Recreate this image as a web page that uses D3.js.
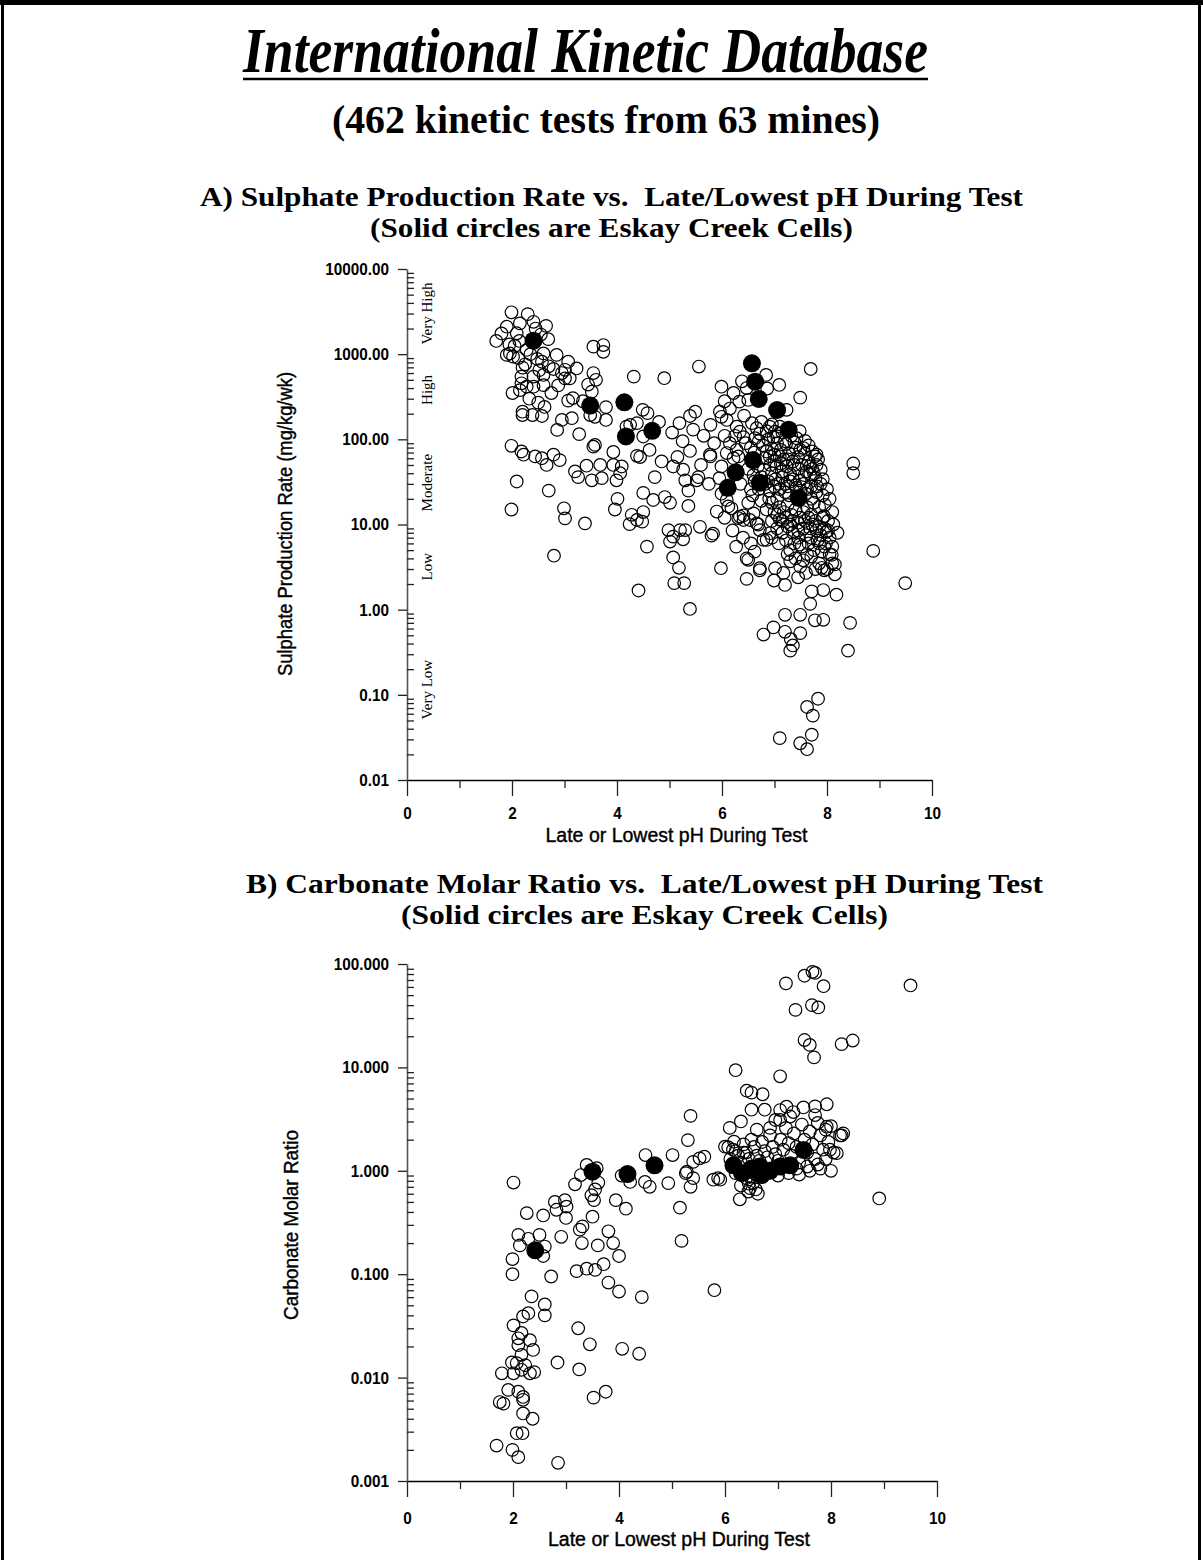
<!DOCTYPE html>
<html>
<head>
<meta charset="utf-8">
<script src="https://cdn.jsdelivr.net/npm/d3@7"></script>
<style>
  body { margin: 0; background: #fff; }
  svg { display: block; }
</style>
</head>
<body>
<svg id="chart" width="1203" height="1560"></svg>
<script>
// ---------------- data ----------------
// Panel A: [late/lowest pH, sulphate production rate (mg/kg/wk)]
const sulphateOpen = [
  [1.99,3100],[2.30,2950],[2.41,2400],[2.65,2150],[1.90,2100],[1.80,1750],[1.70,1430],[2.09,1760],[2.14,1430],[2.69,1500],
  [1.96,1020],[2.02,935],[1.90,980],[2.28,1120],[2.60,1020],[2.85,980],[2.57,815],[3.07,815],[2.20,695],[2.79,670],
  [3.01,655],[3.23,680],[2.18,545],[2.41,545],[2.60,570],[3.01,520],[2.18,455],[2.28,415],[2.01,350],[2.15,378],
  [2.41,415],[2.60,433],[3.55,1225],[3.74,1280],[3.74,1065],[3.55,600],[3.60,500],[4.32,545],[4.90,522],[5.56,715],
  [3.52,363],[3.16,305],[3.07,285],[3.79,239],[3.79,169],[3.49,193],[3.58,184],[2.95,169],[3.14,177],[2.86,129],
  [3.28,115],[2.20,211],[2.20,193],[2.39,193],[2.57,188],[4.25,148],[4.38,155],[4.49,222],[4.58,203],[4.18,141],
  [4.50,108],[5.19,155],[5.39,188],[5.49,211],[5.78,148],[5.99,415],[6.22,350],[5.99,184],[6.09,169],[5.96,211],
  [1.99,84],[2.18,72],[2.22,66],[2.44,63],[2.66,50],[2.57,60],[2.91,57],[2.79,66],[3.58,86],[3.55,82],
  [3.93,71],[4.38,64],[4.44,62],[5.39,73],[5.77,66],[6.09,69],[3.20,42],[3.26,36],[3.42,49],[3.68,50],
  [3.93,50],[4.09,48],[3.52,33],[3.71,35],[3.99,33],[4.06,40],[4.72,36],[5.07,48],[5.26,44],[5.30,33],
  [5.55,36],[5.52,33],[2.09,32],[2.70,25],[1.99,15],[2.99,15.5],[3.01,11.8],[3.39,10.3],[4.01,20],[3.96,15],
  [4.50,23.5],[4.38,11.3],[4.28,13],[4.50,14],[4.69,19.4],[4.91,21],[5.01,18],[5.36,25],[5.36,16.5],[5.07,7.2],
  [5.20,8.6],[4.98,8.6],[5.26,6.7],[5.58,9.4],[5.80,7.4],[5.90,14.2],[6.12,16.3],[4.57,5.5],
  [4.24,10.1],[4.48,10.8],[2.80,4.3],[4.41,1.68],[5.30,8.6],[5.01,6.3],[5.83,7.8],[6.18,15.5],[5.07,4.1],[5.18,3.1],
  [5.09,2.05],[5.28,2.05],[5.39,1.02],[5.98,3.07],[6.27,5.5],[6.41,11.3],[6.47,4.0],[6.50,3.85],[6.47,2.3],[6.72,3.07],
  [6.72,2.9],[6.99,2.2],[6.79,0.51],[6.98,0.62],[7.10,0.031],[6.60,13.5],[6.69,10],[6.79,6.6],[6.91,7.9],[6.31,11.9],[6.41,12.8],
  [7.69,670],[6.84,570],[7.09,435],[6.47,400],[6.86,395],[6.33,277],[6.50,290],[7.49,309],[7.23,222],
  [6.28,141],[6.34,123],[6.25,110],[6.41,106],[6.57,155],[6.66,135],[6.72,117],[6.63,103],[6.91,141],[7.01,123],
  [6.98,106],[7.10,141],[7.42,103],[7.55,79],[7.49,75],
  [5.78,63],[5.99,48],[6.28,75],[6.31,63],[6.85,72],[6.91,63],[7.10,63],[7.04,48],[7.14,42],[7.23,48],
  [7.30,39],[7.77,63],[7.80,50],[7.68,39],[7.61,42],[8.50,52],[8.50,40],[5.99,23],[6.09,19.4],
  [6.55,26],[6.91,25],[7.00,28],[7.10,26],[7.20,30],[7.25,28],[7.30,32],[7.40,29],[7.50,25],[7.60,23],[7.70,20],[7.75,18],
  [6.34,12.4],[6.53,11.3],[6.66,10.3],[6.72,8.6],[6.85,6.6],
  [7.05,13],[7.15,11],[7.25,9.5],[7.35,8],[7.45,7],[7.55,9],[7.65,12],[7.70,7],[7.85,6],[7.95,5.5],
  [8.05,4.5],[8.10,3.5],[8.00,3.0],[7.90,3.1],
  [8.88,4.9],[9.49,2.05],[7.01,3.07],[7.17,2.7],[7.30,3.7],[7.20,1.95],[7.49,3.2],[7.71,1.64],[7.93,1.7],[8.18,1.5],
  [7.68,1.17],[7.20,0.87],[7.49,0.87],[7.93,0.76],[7.99,8.2],[8.09,4.4],[8.15,3.4],
  [7.20,0.55],[7.31,0.45],[7.35,0.38],[7.30,0.33],[7.49,0.53],[7.77,0.75],[8.44,0.70],[8.40,0.33],
  [7.62,0.072],[7.83,0.09],[7.73,0.057],[7.71,0.034],[7.49,0.027],[7.62,0.023],
  [6.45,90],[6.55,80],[6.62,70],[6.70,95],[6.78,85],[6.82,60],[6.88,100],[6.95,78],[7.00,66],[7.05,90],
  [7.12,75],[7.18,58],[7.22,88],[7.28,68],[7.35,55],[7.40,80],[7.45,62],[7.52,50],[7.58,68],[7.65,55],
  [7.72,45],[7.78,35],[6.50,45],[6.60,38],[6.68,48],[6.75,36],[6.80,44],[6.88,32],[6.95,40],[7.02,34],
  [7.08,30],[7.15,36],[7.20,24],[7.28,22],[7.35,34],[7.42,27],[7.48,33],[7.55,30],[7.62,26],[7.70,28],
  [7.80,24],[7.85,16],[6.50,18],[6.58,22],[6.75,19],[6.85,15],[6.95,18],[7.05,20],[7.10,16],[7.18,14],
  [7.25,17],[7.32,13],[7.40,15],[7.48,12],[7.55,14],[7.62,16],[7.70,13],[7.78,11],[7.85,9.5],[7.92,12],
  [6.95,11],[7.05,9],[7.15,8],[7.22,6.5],[7.30,10],[7.38,6],[7.45,8.5],[7.52,5.5],[7.60,7.5],[7.68,9],
  [7.75,5],[7.82,6.5],[7.90,4.8],[7.98,6],[8.05,7],[8.10,5.5],[7.25,4.5],[7.40,4],[7.55,3.8],[7.70,4.2],
  [7.85,3.5],[7.95,2.9],[8.15,2.6],[7.60,2.7],[7.45,2.4],[7.78,3.0],[7.83,58],[7.81,28],[7.96,17],[7.94,12.5],
  [2.05,1250],[2.12,900],[2.25,760],[2.35,1000],[2.48,880],[2.52,650],[2.70,720],[2.95,600],[3.10,520],[2.33,300],
  [2.50,270],[2.75,350],[2.88,430],[3.35,280],[3.45,440],[2.62,240],[1.95,1300],[2.45,2000],[2.55,1700],[2.15,2300],
  [4.80,160],[5.05,120],[5.25,95],[5.45,130],[5.65,110],[5.85,90],[4.62,75],[4.85,55],[5.15,62],[5.60,50],
  [5.75,30],[5.95,35],[6.05,110],[6.15,90],[6.05,280],[6.15,230],[6.38,480],[6.42,190],[6.22,60],[6.35,30],
  [6.05,12],[6.20,8.5],[6.40,7],[6.55,6],[6.62,4.8],
  [6.75,160],[6.85,125],[6.95,150],[7.05,108],[7.15,120],[7.20,95],[7.32,110],[7.38,92],[7.48,125],[7.58,96],
  [7.65,85],[7.72,72],[7.80,66],[7.88,44],[7.92,34],[8.00,26],[8.05,20],[8.10,14],[8.12,10],[8.20,8],
  [8.02,11],[7.92,22],[7.88,30],[7.75,40],[7.68,48],[7.57,38],[7.45,45],[7.38,50],[7.26,58],[7.12,52],
  [7.00,55],[6.92,50],[6.82,30],[6.70,26],[6.62,32],[6.90,20],[7.00,14],[7.10,11.5],[7.22,12],[7.35,11],
  [7.45,10.5],[7.58,11],[7.65,6],[7.72,10],[7.80,8.5],[7.88,7.5],[7.95,9],[8.02,8.5],[6.95,7],[7.08,6],
  [7.30,5],[7.48,5.8],[7.62,4.5]
];
// Eskay Creek cells, panel A
const sulphateEskay = [
  [2.41,1440],[3.49,249],[4.14,272],[4.17,108],[4.67,126],[6.57,782],[6.63,475],[6.70,298],
  [7.05,221],[7.27,130],[6.59,57],[6.26,41],[6.11,27],[6.72,31],[7.46,20.5]
];

// Panel B: [late/lowest pH, carbonate molar ratio]
const ratioOpen = [
  [6.20,9.4],[6.41,5.95],[6.50,5.7],[6.71,5.5],[6.50,3.9],[6.75,3.9],[5.35,3.4],[6.30,3.0],[6.09,2.6],[6.60,2.5],
  [5.30,1.98],[6.00,1.71],[6.06,1.69],[6.17,1.91],[4.50,1.42],[5.01,1.42],[5.40,1.22],[5.52,1.32],[5.61,1.37],
  [3.39,1.14],[3.58,1.06],[3.28,0.91],[3.17,0.74],[3.61,0.77],[3.55,0.66],[3.48,0.58],[3.53,0.52],[4.05,0.9],[4.21,0.78],
  [4.49,0.78],[4.58,0.7],[4.93,0.76],[5.26,0.95],[5.40,0.85],[5.35,0.70],[5.15,0.44],[5.18,0.21],[5.80,0.070],
  [5.87,0.85],[5.91,0.82],[6.28,0.53],[6.47,0.68],[6.53,0.76],
  [2.01,0.77],[2.26,0.39],[2.57,0.37],[2.79,0.50],[2.98,0.52],[2.82,0.42],[3.01,0.45],[3.00,0.35],[2.91,0.23],
  [3.31,0.29],[3.26,0.27],[3.30,0.20],[3.50,0.36],[3.80,0.26],[3.89,0.20],[3.60,0.19],[4.00,0.15],
  [2.10,0.24],[2.29,0.22],[2.50,0.24],[2.13,0.19],[2.60,0.185],[2.57,0.15],[1.99,0.14],[1.99,0.10],[2.72,0.095],
  [3.20,0.107],[3.39,0.113],[3.55,0.11],[3.71,0.125],[3.80,0.083],[4.00,0.068],[4.43,0.060],[2.35,0.061],
  [2.60,0.051],[2.60,0.040],[2.29,0.042],[2.19,0.039],[2.01,0.032],[2.16,0.027],[2.10,0.024],
  [2.32,0.023],[2.38,0.0185],[2.10,0.0206],[2.16,0.0166],[2.07,0.0138],[1.98,0.014],[2.23,0.0132],[2.16,0.0119],
  [1.79,0.011],[2.01,0.011],[2.40,0.0113],[2.32,0.011],[2.84,0.014],[3.23,0.030],[3.45,0.021],[3.25,0.012],
  [4.06,0.019],[4.38,0.017],
  [3.52,0.0064],[3.75,0.0073],[1.91,0.0076],[2.10,0.0073],[2.19,0.0065],[1.82,0.0056],[1.75,0.0058],[2.19,0.0061],
  [2.19,0.0045],[2.37,0.0040],[2.07,0.0029],[2.18,0.0029],[1.69,0.0022],[1.99,0.0020],[2.10,0.0017],[2.85,0.0015],
  [3.94,0.52],[4.13,0.43],
  [9.50,62],[7.65,84],[7.70,82],[7.50,77],[7.15,65],[7.86,61],[7.33,36],[7.64,40],[7.76,38],[7.50,18.4],
  [7.60,16.5],[7.68,12.5],[8.20,16.8],[8.41,18.2],[7.04,8.2],
  [7.04,3.87],[7.16,4.17],[7.29,3.7],[7.48,4.1],[7.70,4.2],[7.92,4.4],[7.70,3.46],[7.04,3.1],[7.23,3.35],
  [7.92,2.67],[8.17,2.2],[8.23,2.3],[8.11,1.48],[7.98,1.6],[5.28,0.98],[8.91,0.54],
  [6.10,1.3],[6.15,1.6],[6.25,1.4],[6.30,1.2],[6.35,1.8],[6.40,1.5],[6.45,1.3],[6.50,2.0],[6.55,1.7],[6.60,1.4],
  [6.65,1.25],[6.70,1.9],[6.75,1.55],[6.80,1.35],[6.85,2.2],[6.90,1.7],[6.95,1.45],[7.00,1.25],[7.05,2.0],[7.10,1.6],
  [7.15,2.6],[7.20,1.85],[7.25,1.4],[7.30,2.3],[7.35,1.7],[7.40,1.2],[7.45,2.8],[7.50,2.0],[7.55,1.5],[7.60,2.4],
  [7.65,1.8],[7.70,1.3],[7.75,2.9],[7.80,2.2],[7.85,1.6],[7.90,2.5],[7.95,1.9],[8.00,2.7],[8.05,1.5],[8.20,2.2],
  [6.20,0.95],[6.40,0.85],[6.60,0.9],[6.80,0.95],[7.00,0.9],[7.20,0.95],[7.40,0.92],[7.60,1.0],[7.80,1.05],[8.00,1.0],
  [6.45,0.75],[6.55,0.95],[6.85,1.05],[7.05,1.1],[7.35,1.05],[7.55,1.1],[7.75,1.15],[7.90,1.3],[6.20,1.1],[6.30,0.72],
  [6.58,0.66],[6.62,0.6],[6.50,0.88],[6.85,2.6],[6.95,3.1],[6.20,1.55],[6.35,1.5],[5.78,0.82],[6.44,0.63]
];
// Eskay Creek cells, panel B
const ratioEskay = [
  [3.50,0.98],[4.16,0.93],[4.67,1.13],[2.42,0.17],[6.16,1.13],[6.32,0.95],[6.50,1.05],
  [6.66,1.10],[6.69,0.91],[6.85,1.00],[7.04,1.10],[7.23,1.13],[7.48,1.59]
];

// axis ticks and labels
const phMajorTicks = [0, 2, 4, 6, 8, 10];
const phMinorTicks = [1, 3, 5, 7, 9];
const rateTicks = [0.01, 0.1, 1, 10, 100, 1000, 10000];
const rateTickLabels = ["0.01", "0.10", "1.00", "10.00", "100.00", "1000.00", "10000.00"];
const ratioTicks = [0.001, 0.01, 0.1, 1, 10, 100];
const ratioTickLabels = ["0.001", "0.010", "0.100", "1.000", "10.000", "100.000"];

// sulphate production rate classes, written along the rate axis
const rateClasses = ["Very High", "High", "Moderate", "Low", "Very Low"];
const rateClassCentres = [3000, 380, 31, 3.2, 0.115];

// ---------------- drawing ----------------
const svg = d3.select("#chart");
svg.append("rect").attr("width", 1203).attr("height", 1560).attr("fill", "#fff");

// page frame
svg.append("rect").attr("x", 0).attr("y", 0).attr("width", 1203).attr("height", 5).attr("fill", "#000");
svg.append("rect").attr("x", 1).attr("y", 0).attr("width", 3).attr("height", 1560).attr("fill", "#000");
svg.append("rect").attr("x", 1198).attr("y", 0).attr("width", 3).attr("height", 1560).attr("fill", "#000");

const SERIF = "'Liberation Serif', 'Times New Roman', serif";
const SANS = "'Liberation Sans', Arial, sans-serif";

function fitted(text, width) {
  const natural = text.node().getComputedTextLength();
  text.attr("textLength", width).attr("lengthAdjust", "spacingAndGlyphs");
  return width / natural;
}
function scaledLike(text, ratio) {
  const natural = text.node().getComputedTextLength();
  text.attr("textLength", natural * ratio).attr("lengthAdjust", "spacingAndGlyphs");
}

// headings
const title = svg.append("text")
  .attr("x", 585.5).attr("y", 72).attr("text-anchor", "middle")
  .style("font-family", SERIF).style("font-weight", "bold").style("font-style", "italic")
  .style("font-size", "64px").text("International Kinetic Database");
fitted(title, 685);
svg.append("line").attr("x1", 243).attr("x2", 928).attr("y1", 79).attr("y2", 79)
  .attr("stroke", "#000").attr("stroke-width", 2.5);

const subtitle = svg.append("text")
  .attr("x", 606).attr("y", 133).attr("text-anchor", "middle")
  .style("font-family", SERIF).style("font-weight", "bold")
  .style("font-size", "40px").text("(462 kinetic tests from 63 mines)");
fitted(subtitle, 548);

// two-line panel heading
function panelHeading(cx, y, line1, width1, line2) {
  const t1 = svg.append("text").attr("x", cx).attr("y", y).attr("text-anchor", "middle")
    .style("white-space", "pre")
    .style("font-family", SERIF).style("font-weight", "bold").style("font-size", "27px").text(line1);
  const r = fitted(t1, width1);
  const t2 = svg.append("text").attr("x", cx).attr("y", y + 31).attr("text-anchor", "middle")
    .style("font-family", SERIF).style("font-weight", "bold").style("font-size", "27px").text(line2);
  scaledLike(t2, r);
}
panelHeading(611.5, 206, "A) Sulphate Production Rate vs.  Late/Lowest pH During Test", 823,
  "(Solid circles are Eskay Creek Cells)");
panelHeading(644.5, 893, "B) Carbonate Molar Ratio vs.  Late/Lowest pH During Test", 797,
  "(Solid circles are Eskay Creek Cells)");

function minorLogTicks(decades) {
  const out = [];
  decades.slice(0, -1).forEach(d => { for (let k = 2; k <= 9; k++) out.push(d * k); });
  return out;
}

function styleAxis(g) {
  g.attr("font-size", null).attr("font-family", null);
  g.selectAll(".tick line").attr("stroke", "#222").attr("stroke-width", 1.3);
  g.selectAll("text")
    .style("font-family", SANS).style("font-weight", "bold")
    .style("font-size", "17px").attr("fill", "#000")
    .each(function () {
      const t = d3.select(this);
      if (t.text()) scaledLike(t, 0.9);
    });
}

function drawPanel(p) {
  const x = d3.scaleLinear().domain([0, 10]).range([p.left, p.right]);
  const y = d3.scaleLog().domain([p.yTicks[0], p.yTicks[p.yTicks.length - 1]]).range([p.bottom, p.top]);
  const g = svg.append("g");

  // x axis: labelled even pH ticks, short odd ticks
  const xMajor = g.append("g").attr("transform", `translate(0,${p.bottom})`)
    .call(d3.axisBottom(x).tickValues(phMajorTicks).tickFormat(d3.format("d"))
      .tickSize(16).tickPadding(p.xPad).tickSizeOuter(0));
  xMajor.select(".domain").attr("stroke", "#000").attr("stroke-width", 1.4);
  styleAxis(xMajor);
  const xMinor = g.append("g").attr("transform", `translate(0,${p.bottom})`)
    .call(d3.axisBottom(x).tickValues(phMinorTicks).tickFormat("").tickSize(8));
  xMinor.select(".domain").remove();
  styleAxis(xMinor);

  // y axis: decades on the outside, intermediate ticks on the inside
  const yMajor = g.append("g").attr("transform", `translate(${p.left},0)`)
    .call(d3.axisLeft(y).tickValues(p.yTicks).tickFormat((d, i) => p.yLabels[i])
      .tickSize(9).tickPadding(9).tickSizeOuter(0));
  yMajor.select(".domain").attr("stroke", "#555").attr("stroke-width", 1.6);
  styleAxis(yMajor);
  const yMinor = g.append("g").attr("transform", `translate(${p.left},0)`)
    .call(d3.axisRight(y).tickValues(minorLogTicks(p.yTicks)).tickFormat("").tickSize(7));
  yMinor.select(".domain").remove();
  styleAxis(yMinor);

  // axis titles
  const xt = g.append("text").attr("x", (p.left + p.right) / 2 + 7).attr("y", p.xTitleY)
    .attr("text-anchor", "middle").attr("dominant-baseline", "central")
    .style("font-family", SANS).style("font-size", "20px")
    .attr("stroke", "#000").attr("stroke-width", 0.4).text("Late or Lowest pH During Test");
  fitted(xt, 262);
  const yt = g.append("text")
    .attr("transform", `translate(${p.yTitleX},${p.yTitleY}) rotate(-90)`)
    .attr("text-anchor", "middle").attr("dominant-baseline", "central")
    .style("font-family", SANS).style("font-size", "20px")
    .attr("stroke", "#000").attr("stroke-width", 0.4).text(p.yTitle);
  fitted(yt, p.yTitleLen);

  // rate classes
  if (p.classes) {
    p.classes.forEach((c, i) => {
      g.append("text")
        .attr("transform", `translate(${p.left + 20},${y(p.classCentres[i])}) rotate(-90)`)
        .attr("text-anchor", "middle").attr("dominant-baseline", "central")
        .style("font-family", SERIF).style("font-size", "15px").text(c);
    });
  }

  // points
  g.append("g").selectAll("circle").data(p.open).join("circle")
    .attr("cx", d => x(d[0])).attr("cy", d => y(d[1])).attr("r", 6.3)
    .attr("fill", "none").attr("stroke", "#000").attr("stroke-width", 1.2);
  g.append("g").selectAll("circle").data(p.solid).join("circle")
    .attr("cx", d => x(d[0])).attr("cy", d => y(d[1])).attr("r", 9)
    .attr("fill", "#000");
}

drawPanel({
  left: 407, right: 932, top: 269, bottom: 780,
  yTicks: rateTicks, yLabels: rateTickLabels, xPad: 11,
  xTitleY: 835, yTitleX: 285, yTitleY: 524, yTitleLen: 304,
  yTitle: "Sulphate Production Rate (mg/kg/wk)",
  classes: rateClasses, classCentres: rateClassCentres,
  open: sulphateOpen, solid: sulphateEskay
});

drawPanel({
  left: 407, right: 937, top: 964, bottom: 1481,
  yTicks: ratioTicks, yLabels: ratioTickLabels, xPad: 15,
  xTitleY: 1539, yTitleX: 291, yTitleY: 1225, yTitleLen: 190,
  yTitle: "Carbonate Molar Ratio",
  classes: null,
  open: ratioOpen, solid: ratioEskay
});
</script>
</body>
</html>
